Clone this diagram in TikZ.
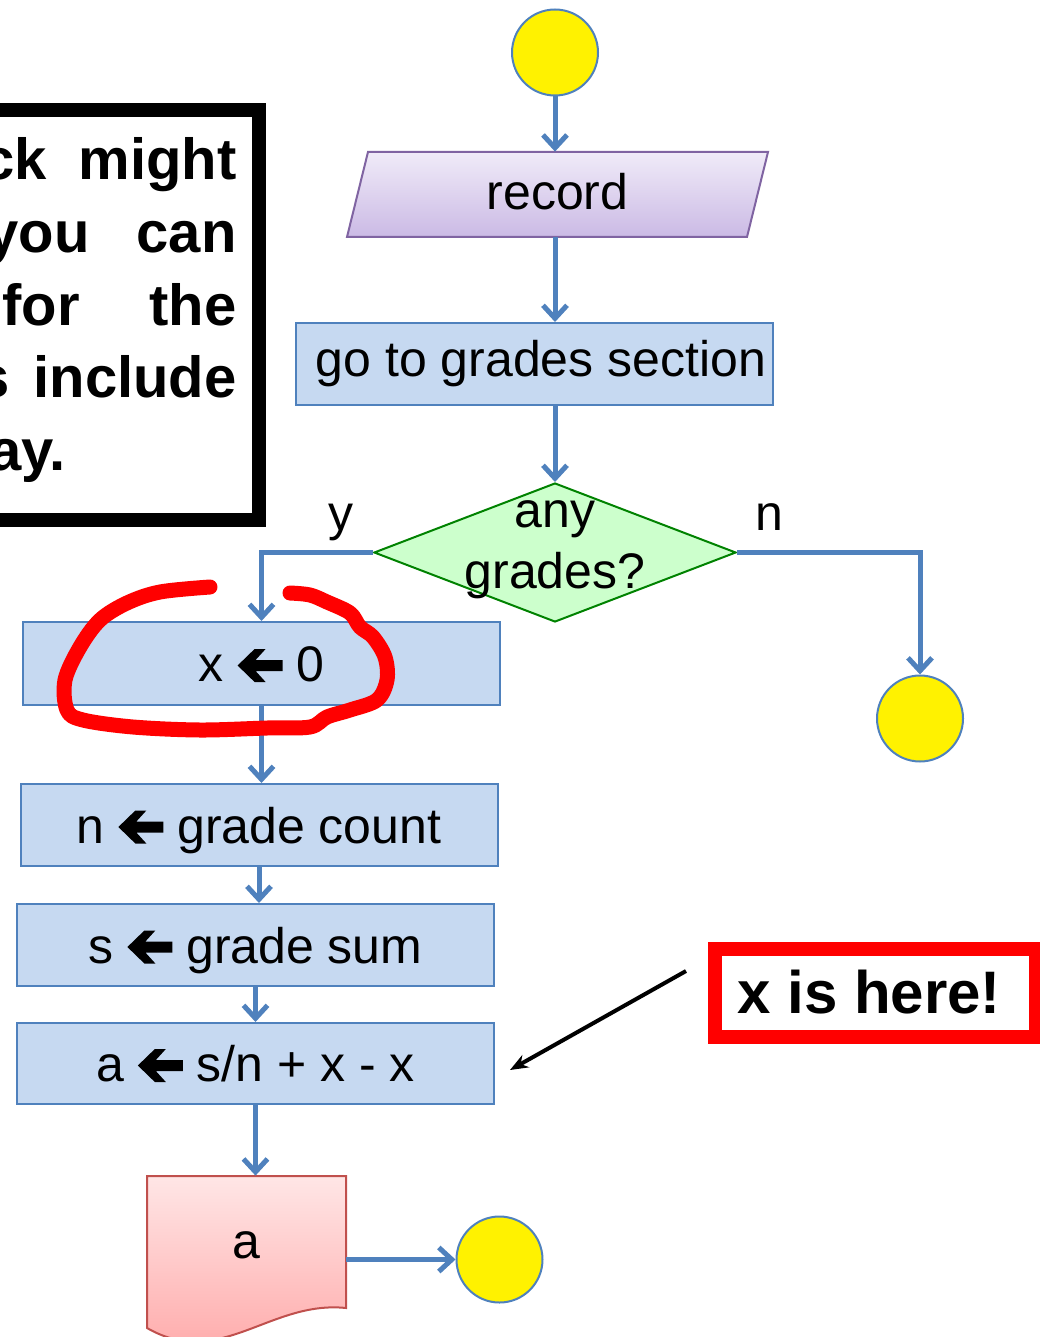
\documentclass[tikz,border=0pt]{standalone}
\usepackage{fontspec}
\setmainfont{Liberation Sans}
\usetikzlibrary{arrows.meta,shapes.geometric}
\definecolor{flowblue}{RGB}{79,129,189}
\definecolor{procfill}{RGB}{198,217,241}
\definecolor{recordtop}{RGB}{240,235,248}
\definecolor{recordbot}{RGB}{203,186,229}
\definecolor{recordline}{RGB}{128,100,162}
\definecolor{decfill}{RGB}{204,255,204}
\definecolor{decline}{RGB}{0,130,0}
\definecolor{doctop}{RGB}{255,230,230}
\definecolor{docbot}{RGB}{255,165,165}
\definecolor{docline}{RGB}{192,80,77}
\newcommand{\getsarrow}{\tikz[x=1em,y=1em,baseline=-0.32em]\fill (0,0) -- (0.34,0.33) -- (0.56,0.33) -- (0.36,0.11) -- (0.9,0.11) -- (0.9,-0.11) -- (0.36,-0.11) -- (0.56,-0.33) -- (0.34,-0.33) -- cycle;}

\begin{document}
\begin{tikzpicture}[x=0.5pt, y=-0.5pt,
  flow/.style={draw=flowblue, line width=2.5pt, -{Straight Barb[length=6.5pt,width=12pt]}},
  process/.style={draw=flowblue, fill=procfill, line width=1pt, minimum width=238.5pt, minimum height=41pt, inner sep=0pt, text height=18pt, text depth=0pt, font=\fontsize{25}{30}\selectfont},
  terminal/.style={circle, draw=flowblue, fill=yellow, line width=1pt, minimum size=43pt, inner sep=0pt},
  decision/.style={diamond, draw=decline, fill=decfill, line width=1pt, minimum width=181pt, minimum height=69.5pt, inner sep=0pt},
  branchtag/.style={font=\fontsize{25}{30}\selectfont, inner sep=0pt, anchor=base},
  boxtext/.style={font=\fontsize{29}{35}\selectfont\bfseries, inner sep=0pt, anchor=base east},
  pointer/.style={line width=2pt, -{Stealth[length=9pt,width=7pt]}},
  scribble/.style={red, line width=7.5pt, line cap=round, line join=round}]
\useasboundingbox (0,0) rectangle (1039,1337);

\draw[line width=7pt] (-20,110.5) rectangle (259,520);
\node[boxtext] (cklead) at (47,180) {ck};
\node[boxtext] (might) at (237,180) {might};
\node[boxtext] (youlead) at (90,252.5) {you};
\node[boxtext] (can) at (237,252.5) {can};
\node[boxtext] (forlead) at (80,325) {for};
\node[boxtext] (the) at (237,325) {the};
\node[boxtext] (slead) at (10,397.5) {s};
\node[boxtext] (include) at (237,397.5) {include};
\node[boxtext] (aylead) at (66,470) {ay.};

\node[terminal] (start) at (555,52.5) {};
\draw[draw=recordline, line width=1pt, top color=recordtop, bottom color=recordbot] (368,152) -- (768,152) -- (747,237) -- (347,237) -- cycle;
\node[minimum width=210.5pt, minimum height=42.5pt, inner sep=0pt, text height=18pt, text depth=2.5pt, font=\fontsize{25}{30}\selectfont] (record) at (557.5,194.5) {record};
\node[process, text depth=6pt] (section) at (534,364) {\hspace*{7pt}go to grades section};
\node[decision] (anygrades) at (555,552.5) {};
\node[branchtag] (anyline) at (555,527) {any};
\node[branchtag] (gradesline) at (555,588) {grades?};
\node[branchtag] (ytag) at (341,530) {y};
\node[branchtag] (ntag) at (769,530) {n};
\node[process, minimum height=41.5pt] (xzero) at (261.5,663.5) {x \getsarrow{} 0};
\node[terminal] (stopA) at (920,718.5) {};
\node[process] (ncount) at (259,825) {n \getsarrow{} grade count};
\node[process] (gsum) at (255.5,945) {s \getsarrow{} grade sum};
\node[process, minimum height=40.5pt] (avg) at (255.5,1063.5) {a \getsarrow{} s/n + x - x};
\draw[draw=docline, line width=1pt, top color=doctop, bottom color=docbot] (147,1176) -- (346,1176) -- (346,1308) .. controls (270,1300) and (220,1370) .. (147,1328) -- cycle;
\node[minimum width=99.5pt, minimum height=69pt, inner sep=0pt, font=\fontsize{25}{30}\selectfont] (aout) at (246.5,1245) {a};
\node[terminal] (stopB) at (499.5,1259.5) {};

\draw[flow] (start) -- (start |- record.north);
\draw[flow] (start |- record.south) -- (start |- section.north);
\draw[flow] (start |- section.south) -- (anygrades.north);
\draw[flow] (anygrades.west) -| (xzero.north);
\draw[flow] (anygrades.east) -| (stopA.north);
\draw[flow] (xzero.south) -- (xzero.south |- ncount.north);
\draw[flow] (ncount.south) -- (ncount.south |- gsum.north);
\draw[flow] (gsum.south) -- (gsum.south |- avg.north);
\draw[flow] (avg.south) -- (avg.south |- aout.north);
\draw[flow] (aout.east |- stopB) -- (stopB);

\draw[red, line width=7pt] (715,949) rectangle (1036,1037);
\node[font=\fontsize{30}{36}\selectfont\bfseries, inner sep=0pt, anchor=base west] (herenote) at (737,1013) {x is here!};
\coordinate (ptrtail) at (686,971);
\coordinate (ptrhead) at (510,1070);
\draw[pointer] (ptrtail) -- (ptrhead);

\draw[scribble] plot[smooth, tension=0.55] coordinates {(210,587) (160,592) (127,603) (100,620) (80,647) (65,680) (67,710) (83,720) (133,727) (200,730) (267,728) (310,727) (327,717) (350,710) (377,700) (387,680) (385,657) (373,637) (360,627) (350,613) (327,602) (310,595) (290,593)};
\end{tikzpicture}
\end{document}
